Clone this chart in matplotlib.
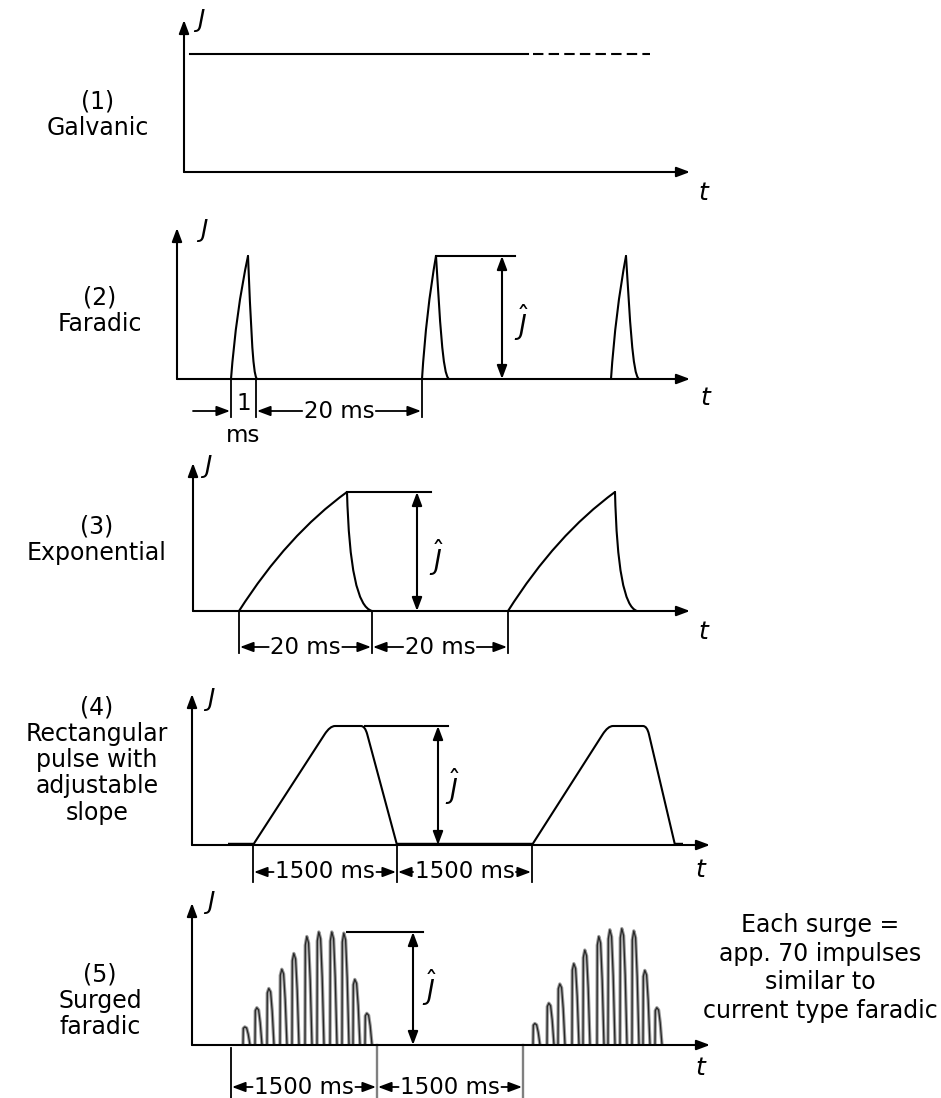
import matplotlib
matplotlib.use("Agg")
import matplotlib.pyplot as plt
from matplotlib.path import Path
from matplotlib.patches import PathPatch

plt.rcParams['font.family'] = ['DejaVu Sans']
plt.rcParams['mathtext.fontset'] = 'dejavusans'

W, H = 941, 1098

# ---------------- data (schematic time units, amplitude normalised to J-hat = 1) -------------
panel_labels = ["(1)\nGalvanic", "(2)\nFaradic", "(3)\nExponential",
                "(4)\nRectangular\npulse with\nadjustable\nslope", "(5)\nSurged\nfaradic"]
note_text = "Each surge =\napp. 70 impulses\nsimilar to\ncurrent type faradic"

# (1) Galvanic: constant current level
galv_level = 1.0
galv_solid = [6, 344]
galv_dashed = [349, 466]

# (2) Faradic: short pulses (start, peak, end)
far_start = [54, 245, 434]
far_peak = [71, 259, 449]
far_end = [80, 272, 462]
far_dim_1ms = [54, 79]
far_dim_20ms = [79, 245]

# (3) Exponential pulses
exp_start = [46, 315]
exp_peak = [154, 422]
exp_end = [179, 444]
exp_dims = [46, 179, 315]
exp_labels = ["20 ms", "20 ms"]

# (4) Trapezoid pulses: start, top-left, top-right, end
rect_start = [61, 340]
rect_tl = [138, 416]
rect_tr = [173, 455]
rect_end = [205, 483]
rect_dims = [61, 205, 340]
rect_labels = ["1500 ms", "1500 ms"]

# (5) Surged faradic: impulse positions and envelope heights
surge1_pos = [51, 63, 75, 88, 100, 113, 125, 138, 150, 161, 173]
surge1_h = [0.16, 0.33, 0.50, 0.67, 0.81, 0.96, 1.00, 1.00, 0.99, 0.58, 0.28]
surge2_pos = [341, 355, 366, 380, 391, 405, 416, 428, 440, 451, 463]
surge2_h = [0.19, 0.37, 0.54, 0.72, 0.84, 0.96, 1.02, 1.03, 1.01, 0.66, 0.33]
surge_dims = [39, 185, 331]
surge_labels = ["1500 ms", "1500 ms"]

# ---------------- layout: origin x, origin y, x-arrow tip, y-arrow tip, J-hat in px ----------
layout = [
    (184, 172, 690, 20, 118),
    (177, 379, 690, 228, 123),
    (193, 611, 690, 463, 119),
    (192, 845, 710, 694, 119),
    (192, 1045, 710, 903, 113),
]
label_pos = [(98, 115), (100, 311), (97, 540), (97, 760), (100, 1001)]
J_pos = [(201, 20), (204, 230), (208, 466), (211, 699), (211, 902)]
t_pos = [(703, 193), (705, 398), (703, 632), (700, 870), (700, 1068)]

fig = plt.figure(figsize=(W / 100, H / 100), dpi=100)
renderer = fig.canvas.get_renderer()

LW = 1.5
TXT = 16.5
ARROW = 'head_length=0.8,head_width=0.3'


def make_axes(i):
    ox, oy, tx, ty, pk = layout[i]
    ax = fig.add_axes([ox / W, 1 - oy / H, (tx - ox) / W, (oy - ty) / H])
    ax.set_xlim(0, tx - ox)
    ax.set_ylim(0, (oy - ty) / pk)
    ax.axis('off')
    arrow = dict(arrowstyle='-|>,' + ARROW, lw=LW, color='k',
                 shrinkA=0, shrinkB=0, mutation_scale=10)
    ax.annotate('', xy=(1, 0), xytext=(0, 0), xycoords='axes fraction', arrowprops=arrow)
    ax.annotate('', xy=(0, 1), xytext=(0, 0), xycoords='axes fraction', arrowprops=arrow)
    fig.text(J_pos[i][0] / W, 1 - J_pos[i][1] / H, 'J', fontsize=18, style='italic',
             ha='center', va='center')
    fig.text(t_pos[i][0] / W, 1 - t_pos[i][1] / H, 't', fontsize=18, style='italic',
             ha='center', va='center')
    fig.text(label_pos[i][0] / W, 1 - label_pos[i][1] / H, panel_labels[i], fontsize=17,
             ha='center', va='center', linespacing=1.12)
    return ax, pk


def py(pk, dpx):
    return dpx / pk


def dim(ax, pk, x0, x1, ypx, label):
    y = py(pk, ypx)
    xm = (x0 + x1) / 2
    t = ax.text(xm, y, label, ha='center', va='center', fontsize=TXT, clip_on=False)
    bb = t.get_window_extent(renderer)
    axw = ax.get_window_extent(renderer).width
    span = ax.get_xlim()[1] - ax.get_xlim()[0]
    half = bb.width / 2 * span / axw + 1.5
    ap = dict(arrowstyle='-|>,' + ARROW, lw=1.3, color='k',
              shrinkA=0, shrinkB=0, mutation_scale=10)
    ax.annotate('', xy=(x0 + 1, y), xytext=(xm - half, y), arrowprops=ap, annotation_clip=False)
    ax.annotate('', xy=(x1 - 1, y), xytext=(xm + half, y), arrowprops=ap, annotation_clip=False)


def vline(ax, pk, x, y0px, y1px, color='k', lw=1.3):
    ax.plot([x, x], [py(pk, y0px), py(pk, y1px)], color=color, lw=lw, clip_on=False)


def jhat(ax, pk, xa, x_ref0, x_ref1, xt, yt, top=1.0):
    ax.plot([x_ref0, x_ref1], [top, top], color='k', lw=LW, clip_on=False)
    ap = dict(arrowstyle='<|-|>,' + ARROW, lw=LW, color='k',
              shrinkA=0, shrinkB=0, mutation_scale=10)
    ax.annotate('', xy=(xa, top), xytext=(xa, 0), arrowprops=ap, annotation_clip=False)
    ax.text(xt, yt, r'$\hat{J}$', fontsize=19, ha='center', va='center')


def draw_path(ax, verts, codes, color='k', lw=LW):
    ax.add_patch(PathPatch(Path(verts, codes), fill=False, edgecolor=color, lw=lw,
                           capstyle='round', joinstyle='round', clip_on=False))


C3 = [Path.MOVETO, Path.CURVE3, Path.CURVE3]
C4 = [Path.MOVETO, Path.CURVE4, Path.CURVE4, Path.CURVE4]

# ---------------- (1) Galvanic ----------------
ax, pk = make_axes(0)
ax.plot(galv_solid, [galv_level] * 2, color='k', lw=LW)
ax.plot(galv_dashed, [galv_level] * 2, color='k', lw=LW, linestyle=(0, (5, 2.5)))

# ---------------- (2) Faradic ----------------
ax, pk = make_axes(1)
for s, p, e in zip(far_start, far_peak, far_end):
    draw_path(ax, [(s, 0), (s + 0.3 * (p - s), 0.55), (p, 1)], C3)
    d = e - p
    draw_path(ax, [(p, 1), (p + 0.3 * d, 0.5), (p + 0.5 * d, 0.03), (e, 0)], C4)
jhat(ax, pk, 325, far_peak[1], 338, 345, 0.46)
for x in far_dim_1ms + [far_dim_20ms[1]]:
    vline(ax, pk, x, 0, -38)
ap = dict(arrowstyle='-|>,' + ARROW, lw=1.3, color='k',
          shrinkA=0, shrinkB=0, mutation_scale=10)
ax.annotate('', xy=(far_dim_1ms[0] - 1, py(pk, -32)), xytext=(16, py(pk, -32)),
            arrowprops=ap, annotation_clip=False)
xm1 = sum(far_dim_1ms) / 2
ax.text(xm1, py(pk, -24), '1', fontsize=TXT, ha='center', va='center')
ax.text(xm1, py(pk, -56), 'ms', fontsize=TXT, ha='center', va='center')
dim(ax, pk, far_dim_20ms[0], far_dim_20ms[1], -32, '20 ms')

# ---------------- (3) Exponential ----------------
ax, pk = make_axes(2)
for s, p, e in zip(exp_start, exp_peak, exp_end):
    draw_path(ax, [(s, 0), (s + 0.45 * (p - s), 0.64), (p, 1)], C3)
    draw_path(ax, [(p, 1), (p + 0.12 * (e - p), 0.05), (e, 0)], C3)
jhat(ax, pk, 224, exp_peak[0], 238, 244, 0.45)
for x in exp_dims:
    vline(ax, pk, x, 0, -42)
for (x0, x1), lab in zip(zip(exp_dims[:-1], exp_dims[1:]), exp_labels):
    dim(ax, pk, x0, x1, -36, lab)

# ---------------- (4) Rectangular with slope ----------------
ax, pk = make_axes(3)
for s, a, b, e in zip(rect_start, rect_tl, rect_tr, rect_end):
    f = 0.93
    verts = [(s, 0), (s + f * (a - s), f), (a, 1), (a + 5, 1), (b - 4, 1), (b, 1),
             (b + (1 - f) * (e - b), f), (e, 0)]
    codes = [Path.MOVETO, Path.LINETO, Path.CURVE3, Path.CURVE3, Path.LINETO,
             Path.CURVE3, Path.CURVE3, Path.LINETO]
    draw_path(ax, verts, codes)
ax.plot([36, rect_start[0]], [0, 0], color='k', lw=3.2, solid_capstyle='butt')
ax.plot([rect_end[0], rect_start[1]], [0, 0], color='k', lw=3.2, solid_capstyle='butt')
ax.plot([rect_end[1], 491], [0, 0], color='k', lw=3.2, solid_capstyle='butt')
jhat(ax, pk, 246, rect_tr[0], 256, 261, 0.49)
for x in rect_dims:
    vline(ax, pk, x, 0, -37)
for (x0, x1), lab in zip(zip(rect_dims[:-1], rect_dims[1:]), rect_labels):
    dim(ax, pk, x0, x1, -27, lab)

# ---------------- (5) Surged faradic ----------------
ax, pk = make_axes(4)
grey = '0.5'
ax.plot([surge1_pos[0], surge2_pos[-1] + 8], [0, 0], color=grey, lw=LW + 0.4)
for pos, hs in ((surge1_pos, surge1_h), (surge2_pos, surge2_h)):
    for p, h in zip(pos, hs):
        xs = [p, p + 0.3, p + 1.8, p + 3.6, p + 5.2, p + 7]
        ys = [0, 0.92 * h, h, 0.94 * h, 0.6 * h, 0]
        ax.plot(xs, ys, color='0.6', lw=2.4, solid_joinstyle='round')
        ax.plot(xs, ys, color='0.15', lw=0.9, solid_joinstyle='round')
jhat(ax, pk, 221, 155, 231, 238, 0.51)
vline(ax, pk, surge_dims[0], -3, -55, color='k')
for x in surge_dims[1:]:
    vline(ax, pk, x, 0, -55, color=grey, lw=1.7)
for (x0, x1), lab in zip(zip(surge_dims[:-1], surge_dims[1:]), surge_labels):
    dim(ax, pk, x0, x1, -42, lab)

fig.text(820 / W, 1 - 968 / H, note_text, fontsize=17, ha='center', va='center',
         linespacing=1.26)

fig.savefig('out.png', dpi=100)
